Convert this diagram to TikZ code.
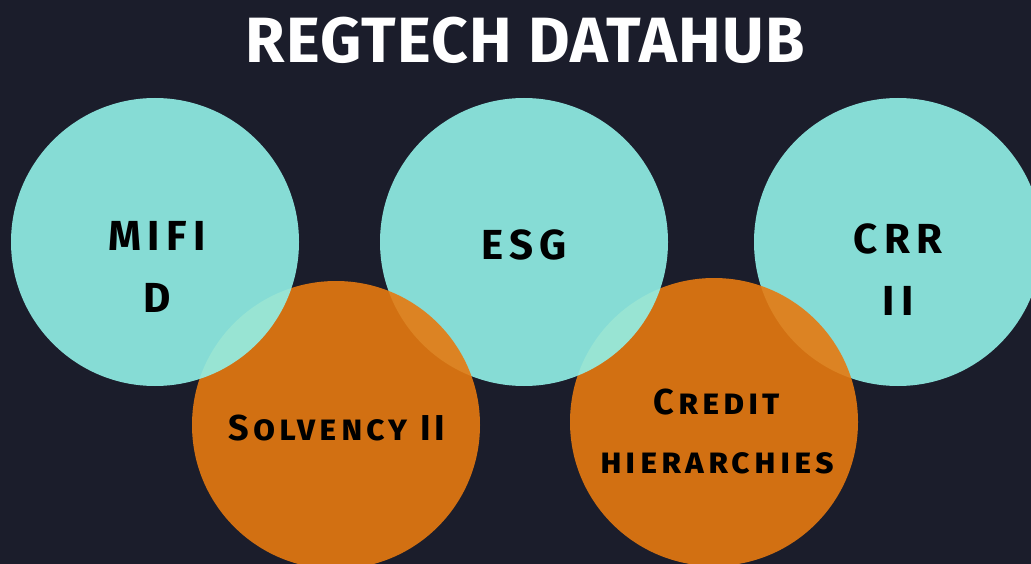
\documentclass[tikz,border=0pt]{standalone}
\usepackage{fontspec}
\setmainfont{Fira Sans}
\newfontfamily\capsfont{Fira Sans}[LetterSpace=15]
\newfontfamily\scfont{Fira Sans}[LetterSpace=11]
\newfontfamily\titlefont{Fira Sans}[LetterSpace=2]
\definecolor{bgc}{HTML}{1B1D2B}
\definecolor{tealc}{HTML}{92F1E8}
\definecolor{orangec}{HTML}{E67A10}
\tikzset{
  tealcirc/.style={fill=tealc, fill opacity=0.9, draw=none},
  orangecirc/.style={fill=orangec, fill opacity=0.9, draw=none},
  capslbl/.style={text=black, align=center, font=\capsfont\fontsize{42}{62}\selectfont\bfseries},
  sclbl/.style={text=black, align=center, font=\scfont\fontsize{36}{59}\selectfont\bfseries\scshape},
  ttl/.style={text=white, font=\titlefont\fontsize{64}{64}\selectfont\bfseries}
}
\begin{document}
\begin{tikzpicture}[x=1pt,y=-1pt]
\fill[bgc] (0,0) rectangle (1031,564);
\useasboundingbox (0,0) rectangle (1031,564);
\begin{scope}
\clip (0,0) rectangle (1031,564);
\fill[tealcirc] (898,242) circle[radius=144];
\fill[orangecirc] (714,422) circle[radius=144];
\fill[tealcirc] (524,242) circle[radius=144];
\fill[orangecirc] (336,425) circle[radius=144];
\fill[tealcirc] (155,242) circle[radius=144];
\end{scope}
\node[ttl] (title) at (525,40) {REGTECH DATAHUB};
\node[capslbl] (mifid) at (157,267) {MIFI\\D};
\node[capslbl] (esg) at (524,245) {ESG};
\node[capslbl] (crr) at (898,270) {CRR\\II};
\node[sclbl] (solv) at (337,428) {Solvency II};
\node[sclbl] (credit) at (717,431) {Credit\\hierarchies};
\end{tikzpicture}
\end{document}
